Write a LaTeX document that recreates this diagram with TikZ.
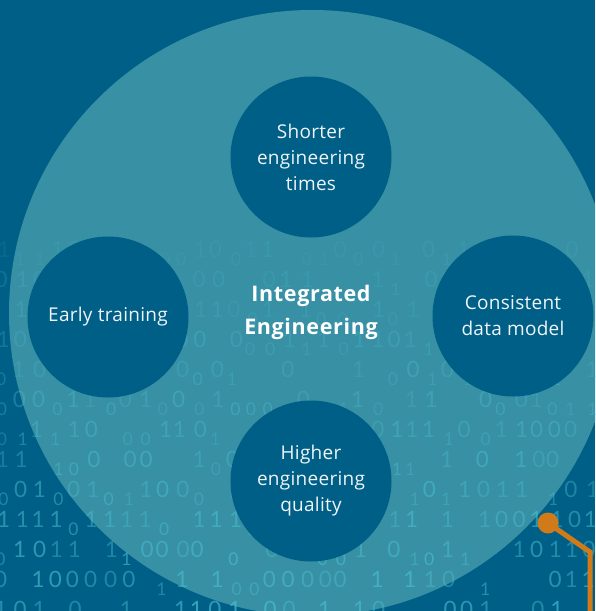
\documentclass[tikz,border=0pt]{standalone}
\usepackage{fontspec}
\setmainfont{Open Sans}[Numbers=Lining]
\setsansfont{Open Sans}[Numbers=Lining]
\newfontfamily\topicfont[LetterSpace=1.5]{Open Sans}
\newfontfamily\titlefont[LetterSpace=3]{Open Sans}
\newfontfamily\digfont{Lato}
\begin{document}
\begin{tikzpicture}[x=1pt,y=-1pt,
  bgfill/.style={fill=bgblue, draw=none},
  topic/.style={circle, fill=bgblue, draw=none, minimum size=161pt, inner sep=0pt,
    text=txtwhite, align=center, font=\topicfont\fontsize{19}{26}\selectfont},
  bigdig/.style={text=digcol, inner sep=0pt, anchor=base, font=\digfont\fontsize{22.5}{22.5}\selectfont},
  smalldig/.style={text=digcol, inner sep=0pt, anchor=base, font=\digfont\fontsize{17.5}{17.5}\selectfont},
  orangeline/.style={draw=sorange, line width=5pt}]
\definecolor{bgblue}{HTML}{005F87}
\definecolor{bigc}{HTML}{3790A4}
\definecolor{txtwhite}{HTML}{EEF4F7}
\definecolor{digcol}{HTML}{4CC2D4}
\definecolor{sorange}{HTML}{D07A1A}
\useasboundingbox (0,0) rectangle (595,611);
\clip (0,0) rectangle (595,611);
\fill[bgfill] (0,0) rectangle (595,611);
\node[circle, fill=bigc, draw=none, minimum size=606pt, inner sep=0pt] (big) at (312,313) {};
% binary digits texture
\pgfmathsetseed{11}
\foreach \k in {0,...,12}{
  \foreach \c in {0,...,33}{
    \pgfmathtruncatemacro\bit{rnd<0.5 ? 0 : 1}
    \pgfmathtruncatemacro\sm{rnd<0.33 ? 1 : 0}
    \pgfmathtruncatemacro\skp{rnd<0.18 ? 1 : 0}
    \pgfmathsetmacro\jit{(rnd-0.5)*5}
    \pgfmathsetmacro\op{min(0.7,(0.14+0.42*\k/12)*(0.75+0.5*rnd))}
    \ifnum\skp=0
      \ifnum\sm=1
        \node[smalldig, opacity=\op] (b-\k-\c) at ({3+17.8*\c+\jit}, {265+30*\k}) {\bit};
      \else
        \node[bigdig, opacity=\op] (b-\k-\c) at ({3+17.8*\c+\jit}, {257+30*\k}) {\bit};
      \fi
    \fi
  }
}
\node[topic] (short) at (311,157) {Shorter\\engineering\\times};
\node[topic] (early) at (108,317) {Early training};
\node[topic] (cons) at (513,316) {Consistent\\data model};
\node[topic] (high) at (311,481) {Higher\\engineering\\quality};
\node[text=white, align=center, font=\titlefont\bfseries\fontsize{21.5}{33}\selectfont] (title) at (311,312) {Integrated\\Engineering};
\node[circle, fill=sorange, draw=none, minimum size=21pt, inner sep=0pt] (dot) at (548,523) {};
\coordinate (elbow) at (590,552);
\coordinate (lend) at (590,620);
\draw[orangeline] (dot.center) -- (elbow) -- (lend);
\end{tikzpicture}
\end{document}
